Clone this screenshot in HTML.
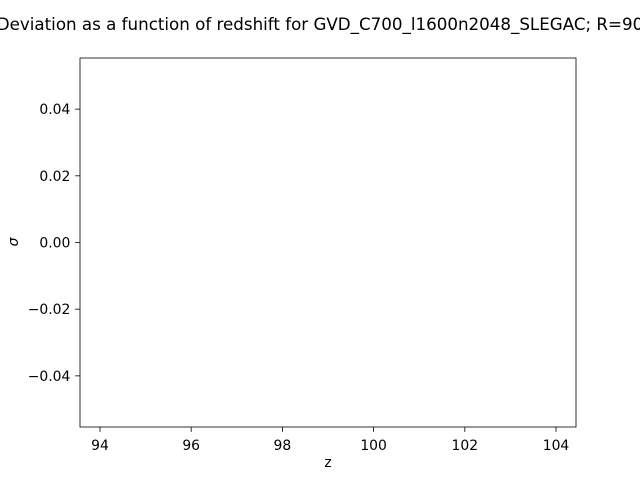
<!DOCTYPE html>
<html><head><meta charset="utf-8"><style>
html,body{margin:0;padding:0;background:#fff;width:640px;height:480px;overflow:hidden}
svg{font-family:"DejaVu Sans","Liberation Sans",sans-serif}
</style></head><body>
<svg id="chart" width="640" height="480" viewBox="0 0 640 480" xmlns="http://www.w3.org/2000/svg">
<rect width="640" height="480" fill="#fff"/>
<text x="320" y="30" font-size="16.7" text-anchor="middle">Deviation as a function of redshift for GVD_C700_l1600n2048_SLEGAC; R=90</text>
<g id="axes"></g>
<text x="328" y="467" font-size="13.9" text-anchor="middle">z</text>
<text transform="translate(18,242) rotate(-90)" font-size="13.9" font-style="italic" text-anchor="middle">σ</text>
</svg>
<script>
const xTicks = [94, 96, 98, 100, 102, 104];
const yTicks = [0.04, 0.02, 0.00, -0.02, -0.04];
const yTickLabels = ["0.04", "0.02", "0.00", "\u22120.02", "\u22120.04"];
const seriesZ = [];
const seriesSigma = [];
const X0=80, X1=576, Y0=58, Y1=427;
const xMin=93.5615, xMax=104.4385, yMin=-0.05534, yMax=0.05534;
function sx(v){return X0+(v-xMin)/(xMax-xMin)*(X1-X0);}
function sy(v){return Y1-(v-yMin)/(yMax-yMin)*(Y1-Y0);}
const NS="http://www.w3.org/2000/svg";
const g=document.getElementById('axes');
function mk(t,a){const e=document.createElementNS(NS,t);for(const k in a)e.setAttribute(k,a[k]);g.appendChild(e);return e;}
xTicks.forEach(v=>{
  const x=sx(v);
  const l=mk('line',{x1:x,x2:x,y1:Y1,y2:Y1+4.9,stroke:'#000','stroke-width':0.8});
  
  
  const t=mk('text',{x:x,y:Y1+23,'font-size':13.9,'text-anchor':'middle'});
  t.textContent=String(v);
  
  
});
yTicks.forEach((v,i)=>{
  const y=sy(v);
  const l=mk('line',{x1:X0-4.9,x2:X0,y1:y,y2:y,stroke:'#000','stroke-width':0.8});
  
  
  const t=mk('text',{x:X0-9.7,y:y+5,'font-size':13.9,'text-anchor':'end'});
  t.textContent=yTickLabels[i];
  
  
});
seriesZ.forEach((z,i)=>{
  const c=mk('circle',{cx:sx(z),cy:sy(seriesSigma[i]),r:3,fill:'#1f77b4'});
  
  
});
const f=mk('rect',{x:X0,y:Y0,width:X1-X0,height:Y1-Y0,fill:'none',stroke:'#000','stroke-width':0.8});


</script>
</body></html>
